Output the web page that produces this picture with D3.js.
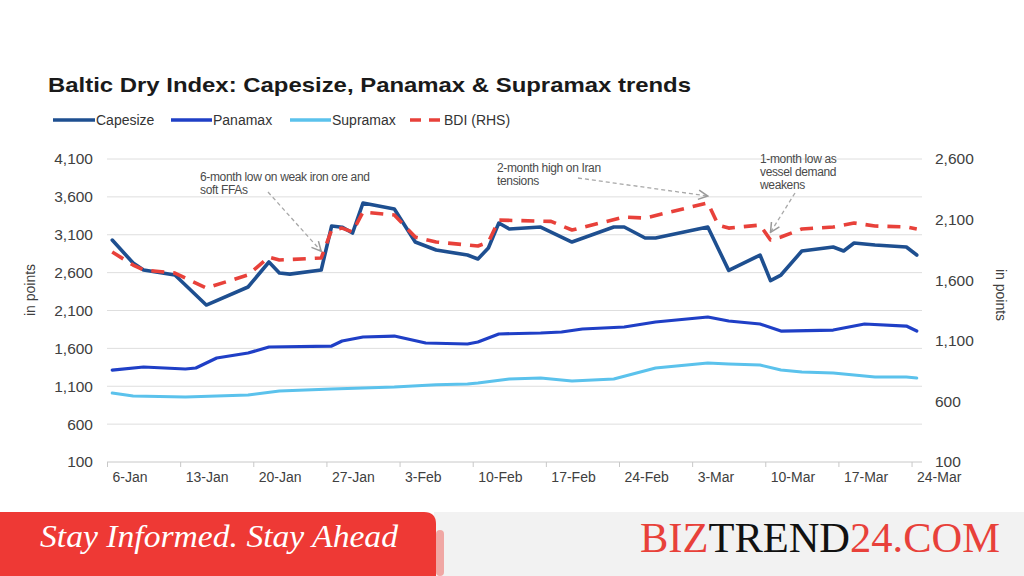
<!DOCTYPE html>
<html>
<head>
<meta charset="utf-8">
<script src="https://cdn.jsdelivr.net/npm/d3@7"></script>
<style>
  html, body { margin: 0; padding: 0; background: #ffffff; }
  svg { display: block; }
</style>
</head>
<body>
<svg id="chart" width="1024" height="576"></svg>
<script>
// ---------------- DATA ----------------
const titleText = "Baltic Dry Index: Capesize, Panamax & Supramax trends";
const seriesNames = ["Capesize", "Panamax", "Supramax", "BDI (RHS)"];
const leftTicks = [100, 600, 1100, 1600, 2100, 2600, 3100, 3600, 4100];
const rightTicks = [100, 600, 1100, 1600, 2100, 2600];
const xTickDates = ["1-6","1-13","1-20","1-27","2-3","2-10","2-17","2-24","3-3","3-10","3-17","3-24"];
const xTickLabels = ["6-Jan","13-Jan","20-Jan","27-Jan","3-Feb","10-Feb","17-Feb","24-Feb","3-Mar","10-Mar","17-Mar","24-Mar"];

const capeDates = ["1-6","1-8","1-9","1-12","1-15","1-19","1-21","1-22","1-23","1-26","1-27","1-28","1-29","1-30","2-2","2-4","2-6","2-9","2-10","2-11","2-12","2-13","2-16","2-19","2-23","2-24","2-26","2-27","3-4","3-6","3-9","3-10","3-11","3-13","3-16","3-17","3-18","3-20","3-23","3-24"];
const capeValues = [3030,2727,2634,2568,2172,2410,2740,2595,2580,2634,3215,3200,3123,3519,3440,3004,2898,2832,2780,2925,3255,3176,3202,3004,3202,3202,3057,3057,3202,2630,2832,2495,2568,2885,2938,2885,2991,2964,2938,2832];

const panaDates = ["1-6","1-9","1-11","1-13","1-14","1-16","1-19","1-21","1-27","1-28","1-30","2-2","2-5","2-9","2-10","2-12","2-16","2-18","2-20","2-24","2-27","3-4","3-6","3-9","3-11","3-16","3-17","3-19","3-23","3-24"];
const panaValues = [1314,1354,1341,1328,1341,1473,1539,1618,1631,1697,1750,1763,1671,1658,1684,1790,1803,1816,1856,1882,1948,2014,1961,1922,1829,1842,1869,1922,1895,1829];

const supraDates = ["1-6","1-8","1-13","1-16","1-19","1-22","1-27","1-30","2-2","2-6","2-9","2-10","2-13","2-16","2-19","2-23","2-27","3-4","3-6","3-9","3-11","3-13","3-16","3-19","3-20","3-23","3-24"];
const supraValues = [1011,971,958,971,984,1037,1064,1077,1090,1120,1130,1143,1196,1209,1169,1196,1341,1407,1394,1380,1314,1288,1275,1235,1222,1222,1209];

const bdiDates = ["1-6","1-8","1-9","1-12","1-15","1-19","1-21","1-22","1-26","1-27","1-28","1-29","1-30","2-2","2-4","2-6","2-10","2-11","2-12","2-17","2-19","2-24","2-26","3-4","3-5","3-6","3-9","3-10","3-11","3-13","3-16","3-18","3-20","3-23","3-24"];
const bdiValues = [1833,1725,1684,1659,1536,1643,1791,1767,1783,2014,2030,1998,2163,2138,1956,1915,1882,1915,2096,2085,2014,2121,2113,2237,2055,2030,2055,1932,1956,2022,2039,2072,2047,2039,2022];

const annotations = [
  { lines: ["6-month low on weak iron ore and", "soft FFAs"], date: "1-26", value: 1790, from: "1-22" },
  { lines: ["2-month high on Iran", "tensions"], date: "3-4", value: 2245, from: "2-14" },
  { lines: ["1-month low as", "vessel demand", "weakens"], date: "3-10", value: 1945, from: "3-12" }
];

// ---------------- HELPERS ----------------
const YEAR = 2025;
function toDate(s, noon) {
  const [m, d] = s.split("-").map(Number);
  return new Date(YEAR, m - 1, d, noon ? 12 : 0);
}

const svg = d3.select("#chart");

// ---------------- SCALES ----------------
const x = d3.scaleTime().domain([toDate("1-6"), toDate("3-25")]).range([107, 922]);
const yL = d3.scaleLinear().domain([100, 4100]).range([462, 159]);
const yR = d3.scaleLinear().domain([100, 2600]).range([462, 159]);

const font = "'Liberation Sans', Arial, sans-serif";

// ---------------- TITLE ----------------
svg.append("text")
  .attr("x", 48).attr("y", 92)
  .attr("font-family", font).attr("font-weight", 700).attr("font-size", 21)
  .attr("fill", "#1a1a1a")
  .attr("textLength", 643).attr("lengthAdjust", "spacingAndGlyphs")
  .text(titleText);

// ---------------- LEGEND ----------------
const colors = ["#1e4f90", "#1f3fc6", "#5bc2ec", "#e8413a"];
const legendItems = [
  { name: seriesNames[0], x0: 53, x1: 95, tx: 96, dash: null },
  { name: seriesNames[1], x0: 171, x1: 212, tx: 213, dash: null },
  { name: seriesNames[2], x0: 290, x1: 331, tx: 332, dash: null },
  { name: seriesNames[3], x0: 410, x1: 443, tx: 444, dash: "11,8" }
];
legendItems.forEach((it, i) => {
  svg.append("line")
    .attr("x1", it.x0).attr("x2", it.x1).attr("y1", 120).attr("y2", 120)
    .attr("stroke", colors[i]).attr("stroke-width", 3.5)
    .attr("stroke-dasharray", it.dash);
  svg.append("text")
    .attr("x", it.tx).attr("y", 125)
    .attr("font-family", font).attr("font-size", 14)
    .attr("fill", "#333").text(it.name);
});

// ---------------- GRID ----------------
svg.append("g").selectAll("line").data(leftTicks.slice(1)).join("line")
  .attr("x1", 107).attr("x2", 922)
  .attr("y1", d => yL(d)).attr("y2", d => yL(d))
  .attr("stroke", "#dedede").attr("stroke-width", 1);

// X axis
const xAxis = d3.axisBottom(x)
  .tickValues(xTickDates.map(d => toDate(d)))
  .tickSize(5)
  .tickFormat((d, i) => xTickLabels[i]);
const gx = svg.append("g").attr("transform", "translate(0,462)").call(xAxis);
gx.select(".domain").attr("stroke", "#c8c8c8").attr("d", "M107,0H922");
gx.selectAll(".tick line").attr("stroke", "#c8c8c8");
gx.selectAll(".tick text")
  .attr("font-family", font).attr("font-size", 14).attr("fill", "#404040")
  .attr("text-anchor", "start").attr("dx", 5).attr("y", 20).attr("dy", 0);

// Left axis
const yAxisL = d3.axisLeft(yL).tickValues(leftTicks).tickSize(0).tickPadding(14)
  .tickFormat(d3.format(","));
const gyl = svg.append("g").attr("transform", "translate(107,0)").call(yAxisL);
gyl.select(".domain").remove();
gyl.selectAll(".tick text").attr("font-family", font).attr("font-size", 15.5).attr("fill", "#404040");

// Right axis
const yAxisR = d3.axisRight(yR).tickValues(rightTicks).tickSize(0).tickPadding(13)
  .tickFormat(d3.format(","));
const gyr = svg.append("g").attr("transform", "translate(922,0)").call(yAxisR);
gyr.select(".domain").remove();
gyr.selectAll(".tick text").attr("font-family", font).attr("font-size", 15.5).attr("fill", "#404040");

// Axis titles
svg.append("text")
  .attr("transform", "translate(35,290) rotate(-90)")
  .attr("text-anchor", "middle")
  .attr("font-family", font).attr("font-size", 14).attr("fill", "#404040")
  .text("in points");
svg.append("text")
  .attr("transform", "translate(996,295) rotate(90)")
  .attr("text-anchor", "middle")
  .attr("font-family", font).attr("font-size", 14).attr("fill", "#404040")
  .text("in points");

// ---------------- LINES ----------------
function drawLine(dates, values, yScale, color, width, dash) {
  const pts = dates.map((d, i) => ({ d: toDate(d, true), v: values[i] }));
  const line = d3.line().x(p => x(p.d)).y(p => yScale(p.v));
  svg.append("path").datum(pts)
    .attr("d", line)
    .attr("fill", "none")
    .attr("stroke", color).attr("stroke-width", width)
    .attr("stroke-linejoin", "round").attr("stroke-linecap", dash ? "butt" : "round")
    .attr("stroke-dasharray", dash);
}
drawLine(supraDates, supraValues, yL, colors[2], 3, null);
drawLine(panaDates, panaValues, yL, colors[1], 3.2, null);
drawLine(capeDates, capeValues, yL, colors[0], 3.6, null);
drawLine(bdiDates, bdiValues, yR, colors[3], 3.6, "13,9");

// ---------------- ANNOTATIONS ----------------
svg.append("defs").append("marker")
  .attr("id", "arr").attr("viewBox", "0 0 10 10")
  .attr("refX", 9).attr("refY", 5)
  .attr("markerWidth", 9).attr("markerHeight", 9)
  .attr("orient", "auto-start-reverse")
  .append("path").attr("d", "M1,1 L9,5 L1,9")
  .attr("fill", "none").attr("stroke", "#9a9a9a").attr("stroke-width", 1.3);

const annText = [
  { x: 200, y: 181, lh: 13 },
  { x: 497, y: 172, lh: 13 },
  { x: 760, y: 163, lh: 13 }
];
const annArrows = [
  { sx: 268, sy: 192 },
  { sx: 578, sy: 178 },
  { sx: 795, sy: 193 }
];
annotations.forEach((a, i) => {
  const t = svg.append("text")
    .attr("font-family", font).attr("font-size", 12).attr("fill", "#4a4a4a")
    .attr("letter-spacing", -0.35);
  a.lines.forEach((ln, j) => {
    t.append("tspan").attr("x", annText[i].x).attr("y", annText[i].y + j * annText[i].lh).text(ln);
  });
  svg.append("line")
    .attr("x1", annArrows[i].sx).attr("y1", annArrows[i].sy)
    .attr("x2", x(toDate(a.date, true))).attr("y2", yR(a.value) - 6)
    .attr("stroke", "#a8a8a8").attr("stroke-width", 1.3)
    .attr("stroke-dasharray", "4,3")
    .attr("marker-end", "url(#arr)");
});

// ---------------- FOOTER ----------------
svg.append("rect").attr("x", 434).attr("y", 512).attr("width", 590).attr("height", 64).attr("fill", "#f2f2f2");
svg.append("rect").attr("x", 436).attr("y", 530).attr("width", 8).attr("height", 46).attr("fill", "#f0a7a4").attr("rx", 4);
svg.append("path")
  .attr("d", "M0,512 H424 Q436,512 436,524 V576 H0 Z")
  .attr("fill", "#ee3935");
svg.append("text")
  .attr("x", 40).attr("y", 547)
  .attr("font-family", "'Liberation Serif', 'DejaVu Serif', serif")
  .attr("font-style", "italic").attr("font-size", 31).attr("fill", "#ffffff")
  .attr("textLength", 358).attr("lengthAdjust", "spacingAndGlyphs")
  .text("Stay Informed. Stay Ahead");
const brand = svg.append("text")
  .attr("x", 640).attr("y", 552)
  .attr("font-family", "'Liberation Serif', 'DejaVu Serif', serif")
  .attr("font-size", 42)
  .attr("textLength", 360).attr("lengthAdjust", "spacingAndGlyphs");
brand.append("tspan").attr("fill", "#e8413a").text("BIZ");
brand.append("tspan").attr("fill", "#111111").text("TREND");
brand.append("tspan").attr("fill", "#e8413a").text("24.COM");
</script>
</body>
</html>
